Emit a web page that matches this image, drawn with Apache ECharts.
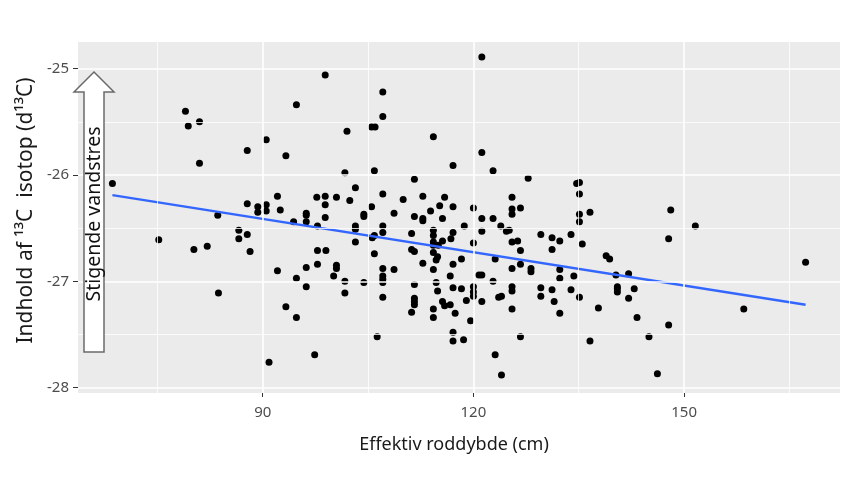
<!DOCTYPE html>
<html>
<head>
<meta charset="utf-8">
<script src="https://cdn.jsdelivr.net/npm/echarts@6/dist/echarts.min.js"></script>
<style>html,body{margin:0;padding:0;background:#fff}#c{width:850px;height:478px}</style>
</head>
<body>
<div id="c"></div>
<script>
// Effektiv roddybde (cm)
const xValues = [
79.0,79.4,81.0,87.8,81.0,68.6,87.8,89.3,89.3,83.6,75.2,80.2,82.1,86.6,86.6,87.8,88.2,83.7,
98.9,107.1,94.8,107.1,102.0,105.5,106.0,114.3,90.5,93.3,101.7,105.9,111.6,103.2,92.1,97.7,98.9,100.5,98.9,102.4,107.1,110.0,112.8,105.5,90.5,90.5,92.5,96.2,96.2,98.9,104.4,104.4,108.7,111.6,113.9,112.8,115.2,
94.4,96.2,97.8,103.2,103.2,103.2,107.1,107.1,112.8,111.2,114.3,114.3,114.3,114.3,105.9,105.6,97.8,99.0,105.9,111.2,111.6,114.3,115.0,96.2,97.8,100.5,100.5,92.1,100.1,94.8,96.2,101.7,101.7,104.4,107.1,107.1,107.1,107.1,108.7,107.1,112.8,114.3,114.7,114.7,114.9,111.6,111.6,111.6,111.6,111.2,114.3,114.3,93.3,94.8,106.3,97.4,90.9,
121.2,121.2,117.1,122.8,127.8,134.7,135.1,135.1,115.9,117.1,120.0,125.5,125.5,126.7,125.5,135.1,136.6,
115.6,118.7,121.2,122.8,123.9,125.1,124.7,135.1,117.1,116.8,115.6,121.2,120.0,125.5,126.3,126.7,129.6,131.2,132.3,133.9,131.2,135.5,114.9,118.3,117.1,123.1,116.7,120.8,121.2,125.5,126.7,128.2,128.2,132.3,132.3,134.3,138.9,139.4,140.3,117.1,118.3,120.0,120.0,120.0,122.8,125.5,125.5,129.6,129.6,131.2,133.9,135.1,123.6,124.0,119.0,121.2,115.6,115.9,116.7,117.4,125.5,131.5,132.3,137.8,119.6,117.1,117.1,118.6,126.7,136.6,123.1,124.0,
148.1,151.6,147.8,142.1,140.5,140.5,140.5,142.9,142.1,143.3,147.8,145.0,146.2,158.5,167.3
];
// Indhold af 13C isotop
const yValues = [
-25.40,-25.54,-25.50,-25.77,-25.89,-26.08,-26.27,-26.30,-26.35,-26.38,-26.61,-26.70,-26.67,-26.52,-26.60,-26.56,-26.72,-27.11,
-25.06,-25.22,-25.34,-25.45,-25.59,-25.55,-25.55,-25.64,-25.67,-25.82,-25.98,-25.96,-26.04,-26.12,-26.20,-26.21,-26.20,-26.21,-26.28,-26.24,-26.18,-26.23,-26.20,-26.30,-26.28,-26.34,-26.33,-26.36,-26.38,-26.40,-26.37,-26.39,-26.36,-26.39,-26.34,-26.41,-26.29,
-26.44,-26.44,-26.48,-26.48,-26.51,-26.63,-26.48,-26.54,-26.43,-26.55,-26.52,-26.57,-26.63,-26.66,-26.57,-26.59,-26.71,-26.71,-26.74,-26.70,-26.72,-26.73,-26.66,-26.87,-26.84,-26.85,-26.88,-26.90,-26.95,-26.97,-27.05,-27.00,-27.11,-27.01,-26.88,-26.95,-26.98,-27.01,-26.89,-27.15,-26.83,-26.89,-26.80,-27.01,-27.09,-27.03,-27.16,-27.19,-27.22,-27.29,-27.26,-27.34,-27.24,-27.34,-27.52,-27.69,-27.76,
-24.89,-25.79,-25.91,-25.96,-26.03,-26.08,-26.07,-26.18,-26.21,-26.30,-26.31,-26.21,-26.32,-26.31,-26.37,-26.37,-26.35,
-26.41,-26.48,-26.41,-26.41,-26.48,-26.52,-26.53,-26.44,-26.54,-26.60,-26.62,-26.53,-26.64,-26.63,-26.62,-26.71,-26.56,-26.59,-26.62,-26.56,-26.70,-26.65,-26.77,-26.79,-26.84,-26.79,-26.95,-26.94,-26.94,-26.88,-26.84,-26.88,-26.91,-26.89,-26.97,-26.95,-26.76,-26.79,-26.94,-27.06,-27.07,-27.05,-27.10,-27.14,-27.00,-27.05,-27.09,-27.06,-27.14,-27.08,-27.08,-27.15,-27.15,-27.14,-27.18,-27.19,-27.19,-27.23,-27.22,-27.30,-27.26,-27.19,-27.30,-27.25,-27.37,-27.48,-27.56,-27.55,-27.52,-27.56,-27.69,-27.88,
-26.33,-26.48,-26.60,-26.93,-27.05,-27.07,-27.10,-27.07,-27.16,-27.34,-27.41,-27.52,-27.87,-27.26,-26.82
];
// fitted trend line endpoints
const fitX = [68.6, 167.3];
const fitY = [-26.19, -27.22];
// ticks
const xTicks = [90, 120, 150];
const xMinorTicks = [75, 105, 135, 165];
const yTicks = [-28, -27, -26, -25];
const yMinorTicks = [-27.5, -26.5, -25.5];
const xRange = [63.7, 172.2];
const yRange = [-28.05, -24.75];
const xTitle = 'Effektiv roddybde (cm)';
const yTitle = 'Indhold af \u00B9\u00B3C  isotop (d\u00B9\u00B3C)';
const arrowText = 'Stigende vandstres';

const font = '"Noto Sans", "Open Sans", sans-serif';
const points = xValues.map((x, i) => [x, yValues[i]]);
const fitLine = fitX.map((x, i) => [x, fitY[i]]);

const gridLines = [];
xMinorTicks.forEach(v => gridLines.push({xAxis: v, lineStyle: {width: 0.8}}));
yMinorTicks.forEach(v => gridLines.push({yAxis: v, lineStyle: {width: 0.8}}));
xTicks.forEach(v => gridLines.push({xAxis: v, lineStyle: {width: 1.6}}));
yTicks.forEach(v => gridLines.push({yAxis: v, lineStyle: {width: 1.6}}));

const chart = echarts.init(document.getElementById('c'), null, {renderer: 'canvas'});
chart.setOption({
  animation: false,
  backgroundColor: '#ffffff',
  grid: {left: 78, top: 42, width: 762, height: 351, show: true, backgroundColor: '#EBEBEB', borderWidth: 0},
  xAxis: {
    type: 'value', min: xRange[0], max: xRange[1],
    name: xTitle, nameLocation: 'middle', nameGap: 43,
    nameTextStyle: {fontFamily: font, fontSize: 18, color: '#1a1a1a', padding: [0, 10, 0, 0]},
    axisLine: {show: false},
    axisTick: {show: true, length: 4, customValues: xTicks, lineStyle: {color: '#333', width: 1}},
    axisLabel: {customValues: xTicks, margin: 12, fontFamily: font, fontSize: 15, color: '#4d4d4d'},
    splitLine: {show: false}
  },
  yAxis: {
    type: 'value', min: yRange[0], max: yRange[1],
    name: yTitle, nameLocation: 'middle', nameGap: 38, nameRotate: 90,
    nameTextStyle: {fontFamily: font, fontSize: 21, color: '#1a1a1a', padding: [0, 0, 0, 14]},
    axisLine: {show: false},
    axisTick: {show: true, length: 5, customValues: yTicks, lineStyle: {color: '#333', width: 1}},
    axisLabel: {customValues: yTicks, margin: 9, fontFamily: font, fontSize: 15, color: '#4d4d4d'},
    splitLine: {show: false}
  },
  series: [
    {
      type: 'line', data: [], z: 1, silent: true,
      markLine: {silent: true, symbol: 'none', label: {show: false}, animation: false,
        lineStyle: {color: '#ffffff', type: 'solid'}, data: gridLines}
    },
    {
      type: 'scatter', data: points, symbol: 'circle', symbolSize: 7, z: 3,
      itemStyle: {color: '#000000', opacity: 1}
    },
    {
      type: 'line', data: fitLine, symbol: 'none', z: 4,
      lineStyle: {color: '#3366FF', width: 2.4}
    }
  ],
  graphic: [
    {
      type: 'polygon', z: 100,
      shape: {points: [[94, 72], [114, 92], [104, 92], [104, 352], [84, 352], [84, 92], [74, 92]]},
      style: {fill: '#ffffff', stroke: '#6b6b6b', lineWidth: 1.5}
    },
    {
      type: 'text', z: 101, x: 94, y: 214, rotation: Math.PI / 2,
      style: {text: arrowText, fontFamily: font, fontSize: 19.5, fill: '#111',
        align: 'center', verticalAlign: 'middle'}
    }
  ]
});
</script>
</body>
</html>
